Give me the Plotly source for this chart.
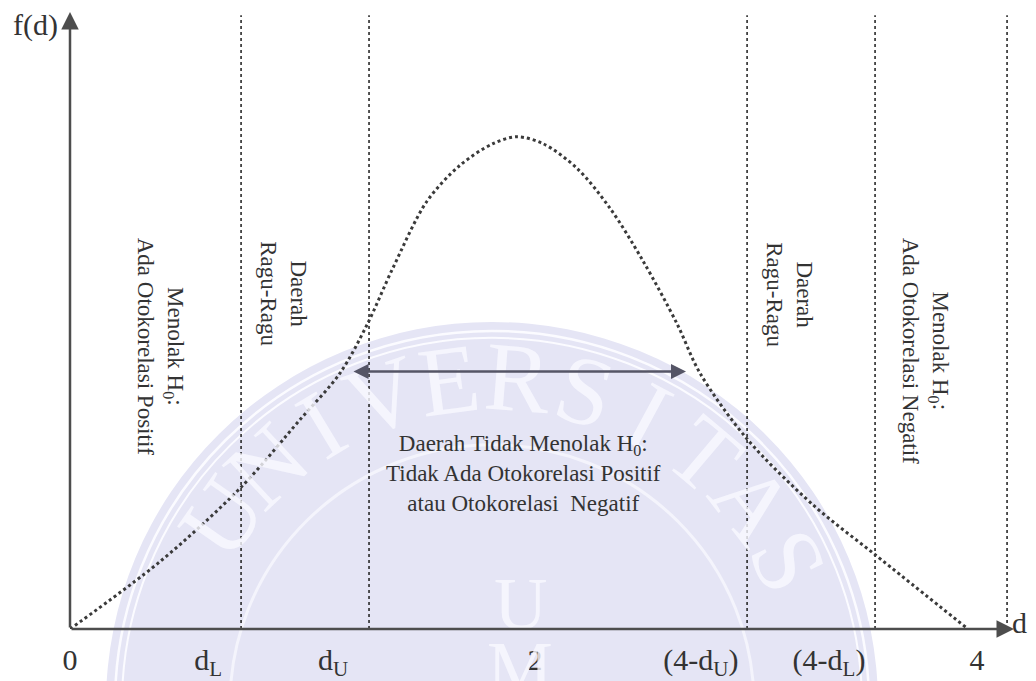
import math
import plotly.graph_objects as go

# ---------------- data ----------------
d_values = [0.0, 0.401, 0.762, 1.024, 1.203, 1.323, 1.439, 1.590, 1.737, 1.884,
            1.991, 2.107, 2.258, 2.405, 2.552, 2.704, 2.806, 3.016, 3.310, 3.586, 4.0]
f_values = [0.0, 0.137, 0.288, 0.425, 0.520, 0.618, 0.734, 0.869, 0.942, 0.986,
            1.000, 0.986, 0.936, 0.855, 0.748, 0.620, 0.520, 0.386, 0.252, 0.151, 0.0]

boundary_d = [0.762, 1.332, 3.016, 3.586, 4.174]   # dL, dU, 4-dU, 4-dL, right edge
boundary_top = 1.247

tick_pos = [0.0, 0.615, 1.172, 2.071, 2.810, 3.381, 4.040]
tick_labels = ["0", "d<sub>L</sub>", "d<sub>U</sub>", "2",
               "(4-d<sub>U</sub>)", "(4-d<sub>L</sub>)", "4"]

region_texts = [
    "Menolak H<sub>0</sub>:<br>Ada Otokorelasi Positif",
    "Daerah<br>Ragu-Ragu",
    "Daerah<br>Ragu-Ragu",
    "Menolak H<sub>0</sub>:<br>Ada Otokorelasi Negatif",
]
center_text = ("Daerah Tidak Menolak H<sub>0</sub>:<br>Tidak Ada Otokorelasi Positif"
               "<br>atau Otokorelasi  Negatif")
watermark_word = "UNIVERSITAS"

# ---------------- layout helpers (screen pixels -> figure coords) ----------------
W, H = 1036, 681
OFF = 8                      # default page margin of the html body
FW, FH = W - OFF, H - OFF    # figure size
AX_X, AX_Y = 70, 635         # screen position of the origin
XS, YS = 224.5, 497.0        # pixels per data unit
ML = AX_X - OFF
PLOT_H = AX_Y - OFF
MB = FH - PLOT_H
PLOT_W = FW - ML


def px2x(px):
    return (px - AX_X) / XS


def py2y(py):
    return (AX_Y - py) / YS


def ppx(px):
    return (px - AX_X) / PLOT_W


def ppy(py):
    return (AX_Y - py) / PLOT_H


FONT = "Liberation Serif, Times New Roman, serif"
INK = "#333333"

fig = go.Figure()

# boundaries
for b in boundary_d:
    fig.add_trace(go.Scatter(x=[b, b], y=[0, boundary_top], mode="lines",
                             line=dict(color="#2a2a2a", width=1.6, dash="dot"),
                             hoverinfo="skip", showlegend=False))

# density curve
fig.add_trace(go.Scatter(x=d_values, y=f_values, mode="lines",
                         line=dict(color="#3a3a3a", width=3, dash="dot",
                                   shape="spline", smoothing=0.9),
                         hoverinfo="skip", showlegend=False))

shapes = []
# watermark (decoration)
cx, cy = 492, 711


def circ(r, **kw):
    return dict(type="circle", xref="paper", yref="paper",
                x0=ppx(cx - r), x1=ppx(cx + r), y0=ppy(cy + r), y1=ppy(cy - r),
                layer="below", **kw)


shapes.append(circ(386, fillcolor="#e5e5f5", line=dict(width=0)))
shapes.append(circ(377, line=dict(color="#fbfbff", width=2.5)))
shapes.append(circ(370, line=dict(color="#fbfbff", width=2)))
shapes.append(circ(262, line=dict(color="#f4f4fc", width=3)))


def note(px, py, text, size, color=INK, angle=0, **kw):
    return dict(x=ppx(px), y=ppy(py), xref="paper", yref="paper", text=text,
                showarrow=False, textangle=angle, xanchor="center", yanchor="middle",
                align="center", font=dict(family=FONT, size=size, color=color), **kw)


annotations = []
# watermark letters along the arc
a0, a1 = -55.0, 64.0
n = len(watermark_word)
for i, ch in enumerate(watermark_word):
    ang = a0 + (a1 - a0) * i / (n - 1)
    r = 330
    lx = cx + r * math.sin(math.radians(ang))
    ly = cy - r * math.cos(math.radians(ang))
    annotations.append(note(lx, ly, ch, 98, "rgba(249,249,255,0.8)", ang))
for ch, py in [("U", 610), ("M", 674)]:
    annotations.append(note(520, py, ch, 74, "rgba(249,249,255,0.8)"))

# axes with arrows
annotations.append(dict(x=0, y=py2y(12), ax=0, ay=0, xref="x", yref="y",
                        axref="x", ayref="y", text="", showarrow=True,
                        arrowhead=2, arrowsize=1.4, arrowwidth=2.5, arrowcolor="#4d4d4d",
                        standoff=0, startstandoff=0))
annotations.append(dict(x=px2x(1014), y=0, ax=0, ay=0, xref="x", yref="y",
                        axref="x", ayref="y", text="", showarrow=True,
                        arrowhead=2, arrowsize=1.4, arrowwidth=2.5, arrowcolor="#4d4d4d",
                        standoff=0, startstandoff=0))
# double arrow for acceptance region
annotations.append(dict(x=px2x(686), y=py2y(375), ax=px2x(352), ay=py2y(375),
                        xref="x", yref="y", axref="x", ayref="y", text="",
                        showarrow=True, arrowside="end+start", arrowhead=2,
                        arrowsize=1.2, arrowwidth=2.5, arrowcolor="#555566",
                        standoff=0, startstandoff=0))

# axis names
annotations.append(note(35, 25, "f(d)", 30))
annotations.append(note(1019, 628, "d", 30))

# region texts (rotated)
region_pos = [(160, 350), (284, 296), (790, 297), (925, 354)]
for txt, (px, py) in zip(region_texts, region_pos):
    annotations.append(note(px, py, txt, 23, INK, 90))

annotations.append(note(523, 478, center_text, 23))

fig.update_layout(
    width=FW, height=FH,
    margin=dict(l=ML, r=0, t=0, b=MB),
    paper_bgcolor="white", plot_bgcolor="rgba(0,0,0,0)",
    shapes=shapes, annotations=annotations,
    showlegend=False,
    xaxis=dict(range=[0, PLOT_W / XS], showgrid=False, zeroline=False,
               showline=False, tickvals=tick_pos, ticktext=tick_labels,
               ticks="outside", ticklen=4, tickcolor="rgba(0,0,0,0)",
               tickfont=dict(family=FONT, size=30, color=INK), fixedrange=True),
    yaxis=dict(range=[0, PLOT_H / YS], showgrid=False, zeroline=False,
               showline=False, showticklabels=False, fixedrange=True),
)

fig.write_html("out.html")
